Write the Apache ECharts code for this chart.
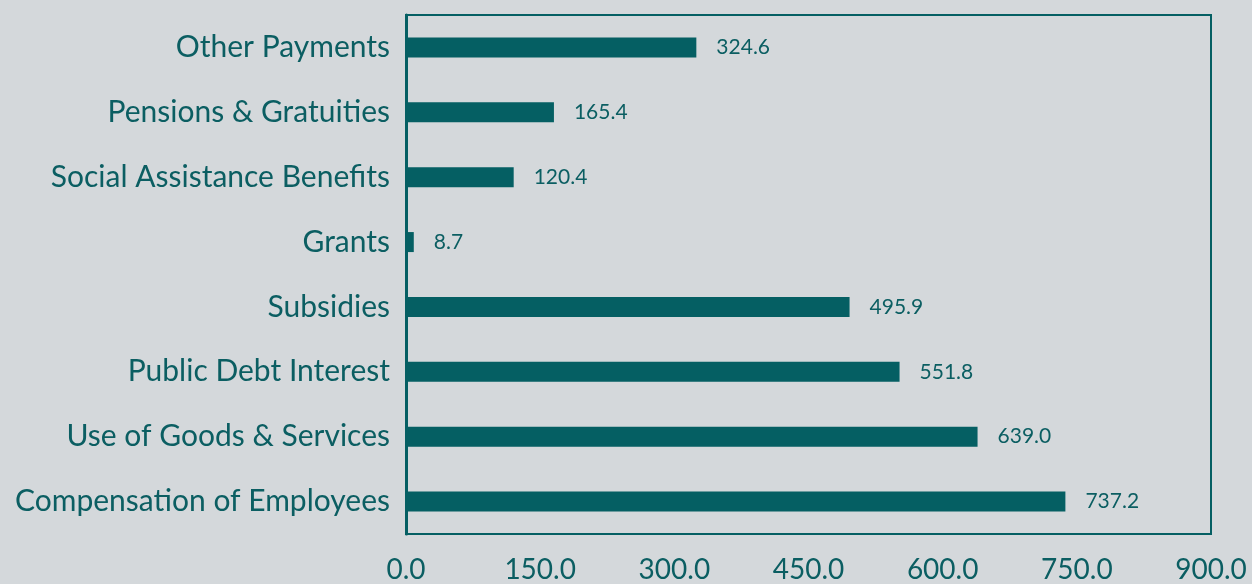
<!DOCTYPE html>
<html>
<head>
<meta charset="utf-8">
<script src="https://cdn.jsdelivr.net/npm/echarts@6/dist/echarts.min.js"></script>
<style>
  html, body { margin: 0; padding: 0; background: #d4d8db; }
  #chart { width: 1252px; height: 584px; }
</style>
</head>
<body>
<div id="chart"></div>
<script>
// Expenditure by economic classification (bottom to top)
const categories = [
  'Compensation of Employees',
  'Use of Goods & Services',
  'Public Debt Interest',
  'Subsidies',
  'Grants',
  'Social Assistance Benefits',
  'Pensions & Gratuities',
  'Other Payments'
];
const values = [737.2, 639.0, 551.8, 495.9, 8.7, 120.4, 165.4, 324.6];
const axisMin = 0;
const axisMax = 900;
const axisStep = 150;

const teal = '#055f63';
const textColor = '#0b5e62';

const chart = echarts.init(document.getElementById('chart'));
chart.setOption({
  backgroundColor: '#d4d8db',
  animation: false,
  grid: {
    left: 406, right: 41, top: 15, bottom: 48,
    show: true, borderColor: teal, borderWidth: 2, backgroundColor: 'transparent'
  },
  xAxis: {
    type: 'value',
    min: axisMin, max: axisMax, interval: axisStep,
    axisLine: { show: false },
    axisTick: { show: false },
    splitLine: { show: false },
    axisLabel: {
      color: textColor, fontFamily: 'Lato', fontSize: 28, margin: 22,
      formatter: v => v.toFixed(1)
    }
  },
  yAxis: {
    type: 'category',
    data: categories,
    axisLine: { show: true, lineStyle: { color: teal, width: 3 } },
    axisTick: { show: false },
    axisLabel: {
      color: textColor, fontFamily: 'Lato', fontSize: 30, margin: 16
    }
  },
  series: [{
    type: 'bar',
    data: values,
    barWidth: 20,
    itemStyle: { color: teal },
    label: {
      show: true, position: 'right', distance: 20,
      color: textColor, fontFamily: 'Lato', fontSize: 21,
      formatter: p => p.value.toFixed(1)
    }
  }]
});
</script>
</body>
</html>
